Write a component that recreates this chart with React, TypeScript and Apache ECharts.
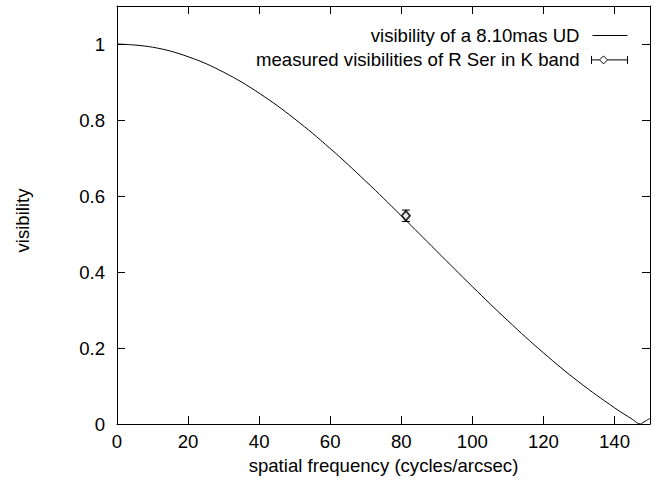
import React, { useEffect, useRef } from "react";
import * as echarts from "echarts";

// Uniform-disk model curve
const curveFreq = [0, 10, 20, 30, 40, 50, 60, 70, 80, 90, 100, 110, 120, 130, 140, 145, 147.3, 148, 150];
const curveVis = [1, 0.9916, 0.9666, 0.9258, 0.8706, 0.8029, 0.7249, 0.639, 0.548, 0.4546, 0.3617, 0.2718, 0.1874, 0.1105, 0.0428, 0.0126, 0, 0.0038, 0.0148];

// Measured point with its error
const measFreq = [81.3];
const measVis = [0.548];
const measErr = [0.015];

const lineName = "visibility of a 8.10mas UD";
const measName = "measured visibilities of R Ser in K band";
const xTitle = "spatial frequency (cycles/arcsec)";
const yTitle = "visibility";

const FONT = "'Liberation Sans', Arial, Helvetica, sans-serif";
const FS = 18.6;

export default function App() {
  const ref = useRef<HTMLDivElement>(null);
  useEffect(() => {
    if (!ref.current) return;
    const chart = echarts.init(ref.current, null, { renderer: "svg" });
    const axisLine = { show: true, onZero: false, lineStyle: { color: "#000", width: 1 } };
    const axisTick = { show: true, inside: true, length: 8, lineStyle: { color: "#000", width: 1 } };
    const label = { color: "#000", fontSize: FS, fontFamily: FONT };
    chart.setOption({
      animation: false,
      backgroundColor: "#fff",
      grid: { left: 117, right: 5, top: 6, bottom: 57, containLabel: false },
      legend: {
        orient: "vertical",
        right: 25,
        top: 24,
        padding: 0,
        itemGap: 1.4,
        itemWidth: 43,
        itemHeight: 18,
        align: "right",
        selectedMode: false,
        textStyle: { ...label },
        data: [
          {
            name: lineName,
            icon: "path://M0,0M0,18M8,9H43",
            itemStyle: { color: "none", borderColor: "#000", borderWidth: 1 },
          },
          {
            name: measName,
            icon: "path://M0,0M0,18M7,9H15M23,9H43M7,5V13M43,5V13M19,5L23,9L19,13L15,9Z",
            itemStyle: { color: "none", borderColor: "#000", borderWidth: 1 },
          },
        ],
      },
      xAxis: [
        {
          type: "value",
          position: "bottom",
          min: 0,
          max: 150,
          interval: 20,
          axisLine,
          axisTick,
          splitLine: { show: false },
          axisLabel: { ...label, margin: 8, showMaxLabel: false },
          name: xTitle,
          nameLocation: "middle",
          nameGap: 30,
          nameTextStyle: { ...label },
        },
        {
          type: "value",
          position: "top",
          min: 0,
          max: 150,
          interval: 20,
          axisLine,
          axisTick,
          splitLine: { show: false },
          axisLabel: { show: false },
        },
      ],
      yAxis: [
        {
          type: "value",
          position: "left",
          min: 0,
          max: 1.1,
          interval: 0.2,
          axisLine,
          axisTick,
          splitLine: { show: false },
          axisLabel: { ...label, margin: 12, showMaxLabel: false },
          name: yTitle,
          nameLocation: "middle",
          nameGap: 85,
          nameRotate: 90,
          nameTextStyle: { ...label, padding: [0, 11, 0, 0] },
        },
        {
          type: "value",
          position: "right",
          min: 0,
          max: 1.1,
          interval: 0.2,
          axisLine,
          axisTick,
          splitLine: { show: false },
          axisLabel: { show: false },
        },
      ],
      series: [
        {
          name: lineName,
          type: "line",
          data: curveFreq.map((f, i) => [f, curveVis[i]]),
          symbol: "none",
          showSymbol: false,
          smooth: 0.4,
          lineStyle: { color: "#000", width: 1 },
          itemStyle: { color: "#000" },
          z: 2,
        },
        {
          name: measName,
          type: "custom",
          data: measFreq.map((f, i) => [f, measVis[i] - measErr[i], measVis[i] + measErr[i]]),
          renderItem: (params: any, api: any) => {
            const lo = api.coord([api.value(0), api.value(1)]);
            const hi = api.coord([api.value(0), api.value(2)]);
            const w = 4;
            const st = { stroke: "#000", lineWidth: 1, fill: "none" };
            return {
              type: "group",
              children: [
                { type: "line", shape: { x1: lo[0], y1: lo[1], x2: hi[0], y2: hi[1] }, style: st },
                { type: "line", shape: { x1: lo[0] - w, y1: lo[1], x2: lo[0] + w, y2: lo[1] }, style: st },
                { type: "line", shape: { x1: hi[0] - w, y1: hi[1], x2: hi[0] + w, y2: hi[1] }, style: st },
              ],
            };
          },
          itemStyle: { color: "#000" },
          z: 3,
        },
        {
          name: measName,
          type: "scatter",
          data: measFreq.map((f, i) => [f, measVis[i]]),
          symbol: "emptyDiamond",
          symbolSize: [8, 10],
          itemStyle: { color: "#000", borderColor: "#000", borderWidth: 1 },
          z: 4,
        },
      ],
    });
    return () => chart.dispose();
  }, []);
  return <div ref={ref} style={{ width: 655, height: 481, position: "absolute", left: 0, top: 0 }} />;
}
